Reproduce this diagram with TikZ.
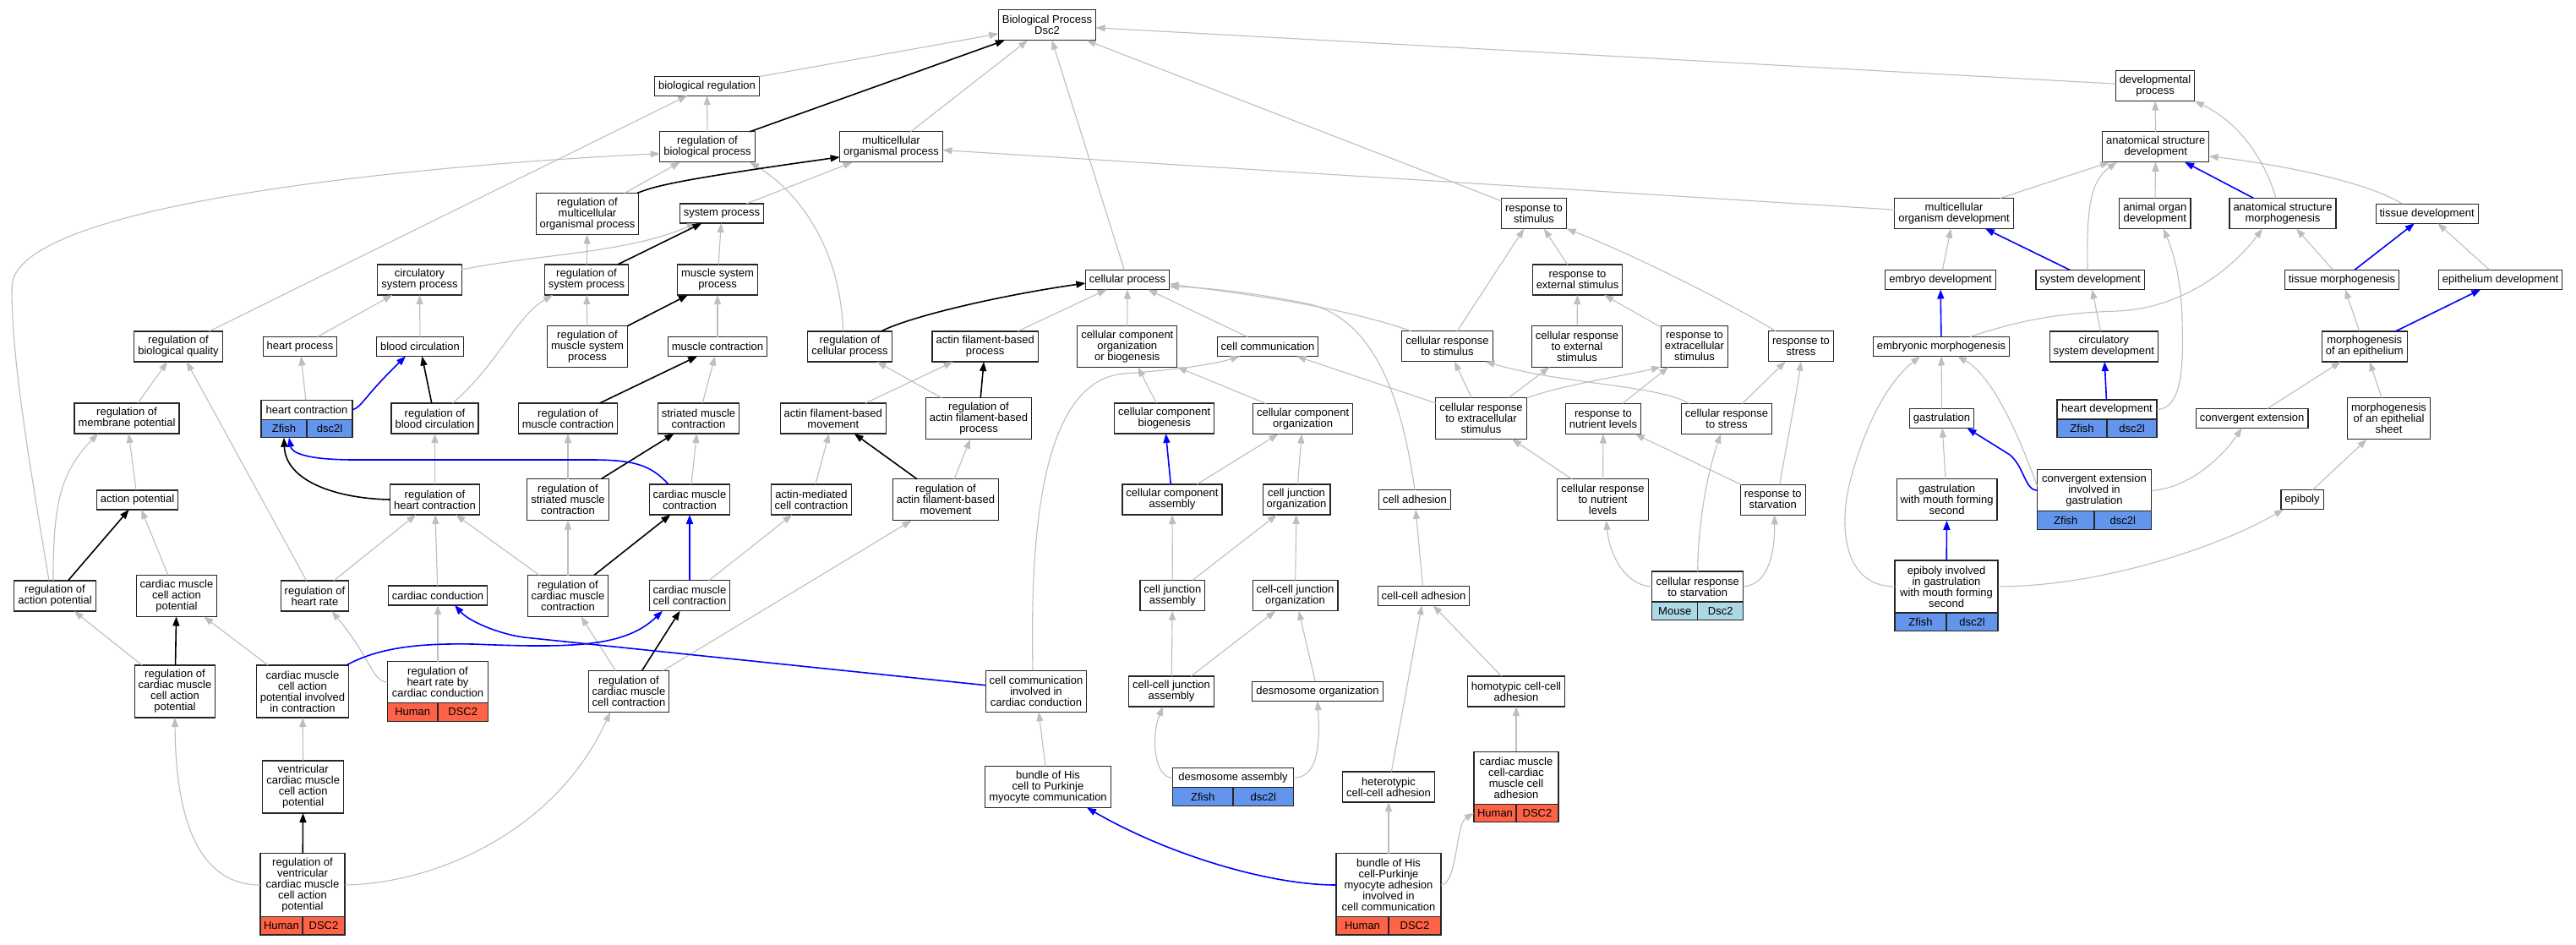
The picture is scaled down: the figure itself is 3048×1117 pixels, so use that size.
\documentclass[tikz,border=0pt]{standalone}
\usepackage{fontspec}
\setmainfont{Liberation Sans}
\usetikzlibrary{arrows.meta}
\definecolor{edgegray}{RGB}{190,190,190}
\definecolor{zfish}{RGB}{100,149,237}
\definecolor{human}{RGB}{255,99,71}
\definecolor{mouse}{RGB}{173,216,230}
\definecolor{blueedge}{RGB}{0,0,255}
\begin{document}
\begin{tikzpicture}[x=1pt, y=-1pt,
	term/.style={draw=black!85, line width=1.2pt, fill=white, align=center, inner xsep=4.5pt, inner ysep=0pt, outer sep=0pt, minimum height=23pt, font=\fontsize{13}{13}\selectfont},
	two/.style={minimum height=36pt},
	three/.style={minimum height=49pt},
	four/.style={minimum height=62pt},
	five/.style={minimum height=75pt},
	sp/.style={draw=black!85, line width=1.2pt, inner sep=0pt, outer sep=0pt, minimum height=21.5pt, font=\fontsize{13}{13}\selectfont},
	zf/.style={sp, fill=zfish},
	hs/.style={sp, fill=human},
	ms/.style={sp, fill=mouse},
	ge/.style={draw=edgegray, line width=1.1pt, -{Triangle[length=11pt,width=8pt]}},
	ke/.style={draw=black, line width=1.6pt, -{Triangle[length=11pt,width=8pt]}},
	be/.style={draw=blueedge, line width=1.6pt, -{Triangle[length=11pt,width=8pt]}}]
	\fill [white] (0,0) rectangle (3048,1117);
	\node [term,two] (root) at (1239,29.7) {Biological Process\\Dsc2};
	\node [term] (bioreg) at (836.5,101.7) {biological regulation};
	\node [term,two] (devproc) at (2550,101.7) {developmental\\process};
	\node [term,two] (regbp) at (837,173.8) {regulation of\\biological process};
	\node [term,two] (mop) at (1054.5,173.8) {multicellular\\organismal process};
	\node [term,two] (asdev) at (2550.7,173.8) {anatomical structure\\development};
	\node [term,three] (regmop) at (695,253) {regulation of\\multicellular\\organismal process};
	\node [term] (sysproc) at (854,252.5) {system process};
	\node [term,two] (respstim) at (1815,252.5) {response to\\stimulus};
	\node [term,two] (mcodev) at (2312,252.5) {multicellular\\organism development};
	\node [term,two] (aodev) at (2549.8,252.5) {animal organ\\development};
	\node [term,two] (asmorph) at (2701,252.5) {anatomical structure\\morphogenesis};
	\node [term] (tissdev) at (2871.6,252.7) {tissue development};
	\node [term,two] (circsys) at (496.5,331) {circulatory\\system process};
	\node [term,two] (regsys) at (694,331) {regulation of\\system process};
	\node [term,two] (muscsys) at (849,331) {muscle system\\process};
	\node [term] (cellproc) at (1334,331) {cellular process};
	\node [term,two] (respext) at (1866.5,331) {response to\\external stimulus};
	\node [term] (embdev) at (2296,331) {embryo development};
	\node [term] (sysdev) at (2473,331) {system development};
	\node [term] (tissmorph) at (2771,331) {tissue morphogenesis};
	\node [term] (epidev) at (2958.6,331) {epithelium development};
	\node [term,two] (regbq) at (211,410) {regulation of\\biological quality};
	\node [term] (heartproc) at (355,410) {heart process};
	\node [term] (bloodcirc) at (497,410) {blood circulation};
	\node [term,three] (regmsp) at (695,410) {regulation of\\muscle system\\process};
	\node [term] (musccon) at (849,410) {muscle contraction};
	\node [term,two] (regcp) at (1005.5,410) {regulation of\\cellular process};
	\node [term,two] (afbp) at (1165.7,410) {actin filament-based\\process};
	\node [term,three] (ccob) at (1333.8,410) {cellular component\\organization\\or biogenesis};
	\node [term] (cellcomm) at (1500,410) {cell communication};
	\node [term,two] (crstim) at (1712.5,409.7) {cellular response\\to stimulus};
	\node [term,three] (crext) at (1866,409.7) {cellular response\\to external\\stimulus};
	\node [term,three] (respextra) at (2005,409.7) {response to\\extracellular\\stimulus};
	\node [term,two] (respstress) at (2131,409.7) {response to\\stress};
	\node [term] (embmorph) at (2297,410) {embryonic morphogenesis};
	\node [term,two] (circdev) at (2489.3,410) {circulatory\\system development};
	\node [term,two] (morphepi) at (2797.7,410) {morphogenesis\\of an epithelium};
	\node [term,two] (regmp) at (150,495) {regulation of\\membrane potential};
	\node [term,minimum width=108pt] (heartcon) at (363,484.7) {heart contraction};
	\node [zf,minimum width=54pt,anchor=north east] (heartcon-a) at (heartcon.south) {Zfish};
	\node [zf,minimum width=54pt,anchor=north west] (heartcon-b) at (heartcon.south) {dsc2l};
	\node [term,two] (regbc) at (514.5,495) {regulation of\\blood circulation};
	\node [term,two] (regmc) at (672,495) {regulation of\\muscle contraction};
	\node [term,two] (strmc) at (826.5,495) {striated muscle\\contraction};
	\node [term,two] (afbm) at (985.8,495) {actin filament-based\\movement};
	\node [term,three] (regafbp) at (1158,495.3) {regulation of\\actin filament-based\\process};
	\node [term,two] (ccbio) at (1377.7,495) {cellular component\\biogenesis};
	\node [term,two] (ccorg) at (1541.6,495.5) {cellular component\\organization};
	\node [term,three] (crextra) at (1752.5,495) {cellular response\\to extracellular\\stimulus};
	\node [term,two] (respnut) at (1897,495.5) {response to\\nutrient levels};
	\node [term,two] (crstress) at (2043,495.5) {cellular response\\to stress};
	\node [term] (gastr) at (2297.5,495) {gastrulation};
	\node [term,minimum width=118pt] (heartdev) at (2493,484.5) {heart development};
	\node [zf,minimum width=59pt,anchor=north east] (heartdev-a) at (heartdev.south) {Zfish};
	\node [zf,minimum width=59pt,anchor=north west] (heartdev-b) at (heartdev.south) {dsc2l};
	\node [term] (convext) at (2664.6,495) {convergent extension};
	\node [term,three] (morphsheet) at (2826.5,495.3) {morphogenesis\\of an epithelial\\sheet};
	\node [term] (actpot) at (162.5,591.5) {action potential};
	\node [term,two] (reghc) at (514.5,591) {regulation of\\heart contraction};
	\node [term,three] (regsmc) at (672,591) {regulation of\\striated muscle\\contraction};
	\node [term,two] (cmcon) at (816,591) {cardiac muscle\\contraction};
	\node [term,two] (amcc) at (960,591) {actin-mediated\\cell contraction};
	\node [term,three] (regafbm) at (1119,591.3) {regulation of\\actin filament-based\\movement};
	\node [term,two] (ccasm) at (1387,591) {cellular component\\assembly};
	\node [term,two] (cjorg) at (1534,591) {cell junction\\organization};
	\node [term] (celladh) at (1674,591.3) {cell adhesion};
	\node [term,three] (crnut) at (1896.5,591.3) {cellular response\\to nutrient\\levels};
	\node [term,two] (respstarv) at (2097.7,591.3) {response to\\starvation};
	\node [term,three] (gastrmouth) at (2303.6,591.3) {gastrulation\\with mouth forming\\second};
	\node [term,three,minimum width=135pt] (convgastr) at (2478,580.3) {convergent extension\\involved in\\gastrulation};
	\node [zf,minimum width=67.5pt,anchor=north east] (convgastr-a) at (convgastr.south) {Zfish};
	\node [zf,minimum width=67.5pt,anchor=north west] (convgastr-b) at (convgastr.south) {dsc2l};
	\node [term] (epiboly) at (2724,591.2) {epiboly};
	\node [term,two] (regap) at (65,705) {regulation of\\action potential};
	\node [term,three] (cmcap) at (209,705) {cardiac muscle\\cell action\\potential};
	\node [term,two] (reghr) at (372.5,705) {regulation of\\heart rate};
	\node [term] (cardcond) at (518,704.5) {cardiac conduction};
	\node [term,three] (regcmc) at (672,705) {regulation of\\cardiac muscle\\contraction};
	\node [term,two] (cmcc) at (816,704.7) {cardiac muscle\\cell contraction};
	\node [term,two] (cjasm) at (1387.4,704.7) {cell junction\\assembly};
	\node [term,two] (cccjorg) at (1532.5,704.7) {cell-cell junction\\organization};
	\node [term] (ccadh) at (1684.5,704.7) {cell-cell adhesion};
	\node [term,two,minimum width=108pt] (crstarv) at (2008.7,694) {cellular response\\to starvation};
	\node [ms,minimum width=54pt,anchor=north east] (crstarv-a) at (crstarv.south) {Mouse};
	\node [ms,minimum width=54pt,anchor=north west] (crstarv-b) at (crstarv.south) {Dsc2};
	\node [term,four,minimum width=122pt] (epigastr) at (2303,693.9) {epiboly involved\\in gastrulation\\with mouth forming\\second};
	\node [zf,minimum width=61pt,anchor=north east] (epigastr-a) at (epigastr.south) {Zfish};
	\node [zf,minimum width=61pt,anchor=north west] (epigastr-b) at (epigastr.south) {dsc2l};
	\node [term,four] (regcmcap) at (207,818) {regulation of\\cardiac muscle\\cell action\\potential};
	\node [term,four] (cmcapic) at (358,818) {cardiac muscle\\cell action\\potential involved\\in contraction};
	\node [term,three,minimum width=119pt] (reghrcc) at (518,807.2) {regulation of\\heart rate by\\cardiac conduction};
	\node [hs,minimum width=59.5pt,anchor=north east] (reghrcc-a) at (reghrcc.south) {Human};
	\node [hs,minimum width=59.5pt,anchor=north west] (reghrcc-b) at (reghrcc.south) {DSC2};
	\node [term,three] (regcmcc) at (744,818) {regulation of\\cardiac muscle\\cell contraction};
	\node [term,three] (cccc) at (1226,817.7) {cell communication\\involved in\\cardiac conduction};
	\node [term,two] (cccjasm) at (1386,818) {cell-cell junction\\assembly};
	\node [term] (desorg) at (1559,817.7) {desmosome organization};
	\node [term,two] (homo) at (1794,818) {homotypic cell-cell\\adhesion};
	\node [term,four] (vcmcap) at (358.7,931) {ventricular\\cardiac muscle\\cell action\\potential};
	\node [term,three] (bundleHis) at (1240,931) {bundle of His\\cell to Purkinje\\myocyte communication};
	\node [term,minimum width=143pt] (desasm) at (1459,920.3) {desmosome assembly};
	\node [zf,minimum width=71.5pt,anchor=north east] (desasm-a) at (desasm.south) {Zfish};
	\node [zf,minimum width=71.5pt,anchor=north west] (desasm-b) at (desasm.south) {dsc2l};
	\node [term,two] (hetero) at (1643,931) {heterotypic\\cell-cell adhesion};
	\node [term,four,minimum width=100pt] (cmcadh) at (1794,920.2) {cardiac muscle\\cell-cardiac\\muscle cell\\adhesion};
	\node [hs,minimum width=50pt,anchor=north east] (cmcadh-a) at (cmcadh.south) {Human};
	\node [hs,minimum width=50pt,anchor=north west] (cmcadh-b) at (cmcadh.south) {DSC2};
	\node [term,five,minimum width=100pt] (regvcmcap) at (358,1047) {regulation of\\ventricular\\cardiac muscle\\cell action\\potential};
	\node [hs,minimum width=50pt,anchor=north east] (regvcmcap-a) at (regvcmcap.south) {Human};
	\node [hs,minimum width=50pt,anchor=north west] (regvcmcap-b) at (regvcmcap.south) {DSC2};
	\node [term,five,minimum width=124pt] (bhpurk) at (1643,1047) {bundle of His\\cell-Purkinje\\myocyte adhesion\\involved in\\cell communication};
	\node [hs,minimum width=62pt,anchor=north east] (bhpurk-a) at (bhpurk.south) {Human};
	\node [hs,minimum width=62pt,anchor=north west] (bhpurk-b) at (bhpurk.south) {DSC2};
	\draw [ge] (bioreg)--(root);
	\draw [ge] (mop)--(root);
	\draw [ge] (cellproc)--(root);
	\draw [ge] (respstim)--(root);
	\draw [ge] (devproc)--(root);
	\draw [ge] (regbp)--(bioreg);
	\draw [ge] (regbq)--(bioreg);
	\draw [ge] (regmop)--(regbp);
	\draw [ge] (sysproc)--(mop);
	\draw [ge] (mcodev)--(mop);
	\draw [ge] (muscsys)--(sysproc);
	\draw [ge] (regsys)--(regmop);
	\draw [ge] (heartproc)--(circsys);
	\draw [ge] (bloodcirc)--(circsys);
	\draw [ge] (regmsp)--(regsys);
	\draw [ge] (musccon)--(muscsys);
	\draw [ge] (heartcon)--(heartproc);
	\draw [ge] (regmp)--(regbq);
	\draw [ge] (reghr)--(regbq);
	\draw [ge] (actpot)--(regmp);
	\draw [ge] (reghc)--(regbc);
	\draw [ge] (regsmc)--(regmc);
	\draw [ge] (cmcap)--(actpot);
	\draw [ge] (reghr)--(reghc);
	\draw [ge] (cardcond)--(reghc);
	\draw [ge] (regcmc)--(reghc);
	\draw [ge] (regcmc)--(regsmc);
	\draw [ge] (regcmcap)--(regap);
	\draw [ge] (cmcapic)--(cmcap);
	\draw [ge] (reghrcc)--(cardcond);
	\draw [ge] (regcmcc)--(regcmc);
	\draw [ge] (vcmcap)--(cmcapic);
	\draw [ge] (strmc)--(musccon);
	\draw [ge] (regafbp)--(regcp);
	\draw [ge] (afbm)--(afbp);
	\draw [ge] (afbp)--(cellproc);
	\draw [ge] (ccob)--(cellproc);
	\draw [ge] (cellcomm)--(cellproc);
	\draw [ge] (ccbio)--(ccob);
	\draw [ge] (ccorg)--(ccob);
	\draw [ge] (crextra)--(cellcomm);
	\draw [ge] (ccasm)--(ccorg);
	\draw [ge] (cjorg)--(ccorg);
	\draw [ge] (amcc)--(afbm);
	\draw [ge] (regafbm)--(regafbp);
	\draw [ge] (cmcon)--(strmc);
	\draw [ge] (cmcc)--(amcc);
	\draw [ge] (regcmcc)--(regafbm);
	\draw [ge] (cjasm)--(ccasm);
	\draw [ge] (cjasm)--(cjorg);
	\draw [ge] (cccjorg)--(cjorg);
	\draw [ge] (cccjasm)--(cjasm);
	\draw [ge] (cccjasm)--(cccjorg);
	\draw [ge] (desorg)--(cccjorg);
	\draw [ge] (bundleHis)--(cccc);
	\draw [ge] (bhpurk)--(hetero);
	\draw [ge] (hetero)--(ccadh);
	\draw [ge] (homo)--(ccadh);
	\draw [ge] (cmcadh)--(homo);
	\draw [ge] (ccadh)--(celladh);
	\draw [ge] (respext)--(respstim);
	\draw [ge] (crstim)--(respstim);
	\draw [ge] (crext)--(respext);
	\draw [ge] (respextra)--(respext);
	\draw [ge] (crextra)--(crstim);
	\draw [ge] (crextra)--(crext);
	\draw [ge] (respnut)--(respextra);
	\draw [ge] (crstress)--(respstress);
	\draw [ge] (crnut)--(crextra);
	\draw [ge] (crnut)--(respnut);
	\draw [ge] (respstarv)--(respnut);
	\draw [ge] (asdev)--(devproc);
	\draw [ge] (mcodev)--(asdev);
	\draw [ge] (aodev)--(asdev);
	\draw [ge] (embdev)--(mcodev);
	\draw [ge] (tissmorph)--(asmorph);
	\draw [ge] (epidev)--(tissdev);
	\draw [ge] (circdev)--(sysdev);
	\draw [ge] (morphepi)--(tissmorph);
	\draw [ge] (gastr)--(embmorph);
	\draw [ge] (gastrmouth)--(gastr);
	\draw [ge] (convext)--(morphepi);
	\draw [ge] (morphsheet)--(morphepi);
	\draw [ge] (epiboly)--(morphsheet);
	\draw [ge] ([xshift=-7pt]regap.north) .. controls (30,520) and (14,420) .. (14,340) .. controls (14,230) and (600,190) .. ([yshift=-8pt]regbp.west);
	\draw [ge] ([xshift=-8pt]regcp.north) .. controls (995,300) and (950,230) .. ([xshift=-6pt]regbp.south east);
	\draw [ge] ([yshift=12pt]circsys.east) .. controls (640,300) and (740,300) .. ([xshift=-30pt]sysproc.south);
	\draw [ge] ([xshift=21pt]regbc.north) .. controls (590,430) and (610,375) .. ([xshift=-40pt]regsys.south);
	\draw [ge] ([xshift=-2pt]regap.north) .. controls (63,600) and (70,560) .. ([xshift=-34pt]regmp.south);
	\draw [ge] (reghrcc.west) .. controls (440,806) and (440,780) .. ([xshift=20pt]reghr.south);
	\draw [ge] (regvcmcap.west) .. controls (240,1047) and (208,980) .. (regcmcap.south);
	\draw [ge] (regvcmcap.east) .. controls (520,1045) and (660,980) .. ([xshift=-22pt]regcmcc.south);
	\draw [ge] ([xshift=-43pt]crstim.north) .. controls (1580,360) and (1450,345) .. ([yshift=-5pt]cellproc.east);
	\draw [ge] (celladh.north) .. controls (1660,480) and (1630,380) .. (1550,360) .. controls (1480,345) and (1420,340) .. ([yshift=-8pt]cellproc.east);
	\draw [ge] ([xshift=-4pt]cccc.north) .. controls (1218,600) and (1240,450) .. (1330,442) .. controls (1400,437) and (1440,430) .. ([xshift=-33pt]cellcomm.south);
	\draw [ge] ([xshift=55pt]crextra.north) .. controls (1850,455) and (1920,445) .. ([xshift=-40pt]respextra.south);
	\draw [ge] ([xshift=-44pt]crstress.north) .. controls (1960,455) and (1850,455) .. ([xshift=45pt]crstim.south);
	\draw [ge] ([xshift=-30pt]respstress.north) .. controls (2040,355) and (1930,300) .. (respstim.south east);
	\draw [ge] (crstarv.west) .. controls (1925,693) and (1905,660) .. ([xshift=4pt]crnut.south);
	\draw [ge] (crstarv.north) .. controls (2009,620) and (2020,560) .. ([xshift=-7pt]crstress.south);
	\draw [ge] (crstarv.east) .. controls (2090,692) and (2100,660) .. ([xshift=2pt]respstarv.south);
	\draw [ge] ([xshift=8pt]respstarv.north) .. controls (2115,520) and (2125,470) .. (respstress.south);
	\draw [ge] (desasm.east) .. controls (1560,920) and (1562,880) .. (desorg.south);
	\draw [ge] (desasm.west) .. controls (1365,920) and (1362,870) .. ([xshift=-10pt]cccjasm.south);
	\draw [ge] (bhpurk.east) .. controls (1725,1045) and (1722,975) .. (cmcadh-a.west);
	\draw [ge] (epigastr.west) .. controls (2180,694) and (2175,620) .. (2190,566) .. controls (2205,510) and (2230,455) .. ([xshift=-25pt]embmorph.south);
	\draw [ge] ([yshift=5pt]convgastr.west) .. controls (2380,490) and (2350,440) .. ([xshift=19pt]embmorph.south);
	\draw [ge] (epigastr.east) .. controls (2480,694) and (2620,650) .. ([xshift=-22pt]epiboly.south);
	\draw [ge] (convgastr.east) .. controls (2590,578) and (2630,540) .. ([xshift=-12pt]convext.south);
	\draw [ge] (heartdev.east) .. controls (2585,484) and (2583,420) .. (2582,380) .. controls (2581,330) and (2572,300) .. ([xshift=10pt]aodev.south);
	\draw [ge] ([xshift=34pt]embmorph.north) .. controls (2400,375) and (2450,370) .. (2505,368) .. controls (2580,365) and (2640,320) .. ([xshift=-24pt]asmorph.south);
	\draw [ge] ([xshift=-3pt]sysdev.north) .. controls (2469,250) and (2472,215) .. ([xshift=-46pt]asdev.south);
	\draw [ge] ([xshift=-8pt]asmorph.north) .. controls (2680,190) and (2650,145) .. (devproc.south east);
	\draw [ge] ([xshift=-29pt]tissdev.north) .. controls (2800,215) and (2700,195) .. ([yshift=-11pt]asdev.east);
	\draw [ke] (regbp)--(root);
	\draw [ke] (regsys)--(sysproc);
	\draw [ke] (regmsp)--(muscsys);
	\draw [ke] (regmc)--(musccon);
	\draw [ke] (regbc)--(bloodcirc);
	\draw [ke] (regap)--(actpot);
	\draw [ke] (regsmc)--(strmc);
	\draw [ke] (regcmc)--(cmcon);
	\draw [ke] (regcmcc)--(cmcc);
	\draw [ke] (regcmcap)--(cmcap);
	\draw [ke] (regvcmcap)--(vcmcap);
	\draw [ke] (regafbp)--(afbp);
	\draw [ke] (regafbm)--(afbm);
	\draw [ke] ([xshift=-2pt]regmop.north east) .. controls (775,220) and (800,213) .. ([yshift=-12pt]mop.west);
	\draw [ke] (reghc.west) .. controls (400,590) and (338,570) .. (heartcon-a.south);
	\draw [ke] ([xshift=37pt]regcp.north) .. controls (1075,375) and (1180,350) .. ([yshift=-4pt]cellproc.west);
	\draw [be] (cmcc)--(cmcon);
	\draw [be] (ccasm)--(ccbio);
	\draw [be] (asmorph)--(asdev);
	\draw [be] (sysdev)--(mcodev);
	\draw [be] (tissmorph)--(tissdev);
	\draw [be] (morphepi)--(epidev);
	\draw [be] (embmorph)--(embdev);
	\draw [be] (heartdev)--(circdev);
	\draw [be] (epigastr)--(gastrmouth);
	\draw [be] (heartcon.east) .. controls (428,482) and (430,470) .. ([xshift=-17pt]bloodcirc.south);
	\draw [be] ([xshift=-25pt]cmcon.north) .. controls (770,550) and (750,544) .. (700,544)--(420,544) .. controls (360,544) and (345,535) .. ([xshift=6pt]heartcon-a.south);
	\draw [be] ([xshift=-3pt]cmcapic.north east) .. controls (450,765) and (500,761) .. (560,762) .. controls (680,767) and (740,765) .. ([xshift=-32pt]cmcc.south);
	\draw [be] ([yshift=7pt]cccc.west)--(620,754) .. controls (590,750) and (555,735) .. ([xshift=20pt]cardcond.south);
	\draw [be] (bhpurk.west) .. controls (1500,1047) and (1380,1010) .. ([xshift=46pt]bundleHis.south);
	\draw [be] (convgastr.west) .. controls (2396,580) and (2395,552) .. (2378,538)--([xshift=30pt]gastr.south);
\end{tikzpicture}
\end{document}
